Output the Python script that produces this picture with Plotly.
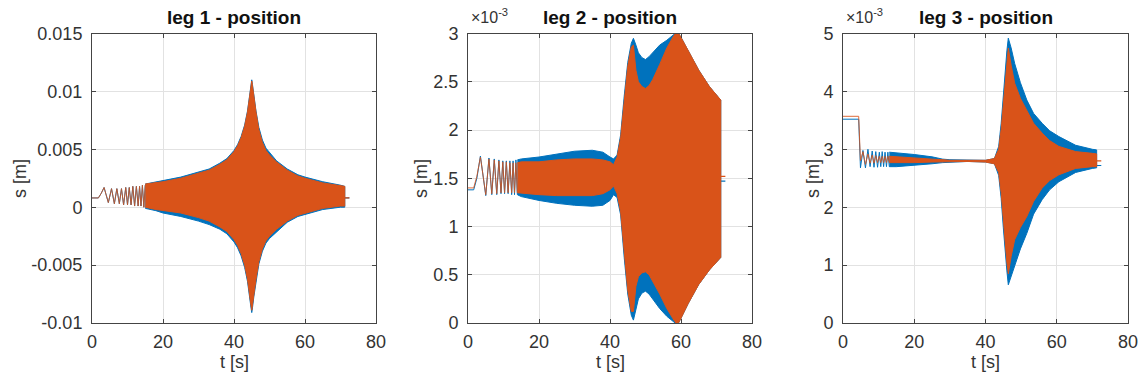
import plotly.graph_objects as go

BLUE = "#0072BD"
ORANGE = "#D95319"
TXT = "#333333"

# ---------------- leg 1 (m) ----------------
leg1_lead_t = [0.0, 1.8, 2.6, 3.4, 4.6, 5.5, 6.3, 7.0, 7.7, 8.3, 8.9, 9.5, 10.0, 10.5, 11.0, 11.5, 12.0, 12.5, 13.0, 13.4, 13.8, 14.2, 14.6, 15.0]
leg1_lead_blue = [0.0008, 0.0008, 0.0012, 0.0017, 0.0004, 0.0016, 0.0003, 0.0016, 0.0003, 0.0016, 0.0002, 0.0017, 0.0002, 0.0017, 0.0002, 0.0018, 0.0001, 0.0018, 0.0001, 0.0018, 0.0001, 0.0019, 0.0000, 0.0019]
leg1_lead_orange = [0.0008, 0.0008, 0.0012, 0.0017, 0.0004, 0.0016, 0.0003, 0.0016, 0.0003, 0.0016, 0.0002, 0.0017, 0.0002, 0.0017, 0.0002, 0.0018, 0.0001, 0.0018, 0.0001, 0.0018, 0.0001, 0.0019, 0.0000, 0.0019]
leg1_env_t = [15, 18, 20, 25, 30, 33, 36, 38, 40, 41, 42, 43, 43.8, 44.4, 44.8, 45.0, 45.2, 45.6, 46.2, 47, 48, 49, 50, 52, 55, 58, 60, 65, 70, 71.2]
leg1_blue_hi = [0.0020, 0.0022, 0.0023, 0.0026, 0.0030, 0.0033, 0.0038, 0.0042, 0.0049, 0.0054, 0.0061, 0.0071, 0.0083, 0.0096, 0.0106, 0.0110, 0.0106, 0.0096, 0.0083, 0.0069, 0.0058, 0.0051, 0.0047, 0.0040, 0.0033, 0.0028, 0.0026, 0.0022, 0.0019, 0.0018]
leg1_blue_lo = [-0.0001, -0.0003, -0.0005, -0.0008, -0.0012, -0.0015, -0.0019, -0.0023, -0.0030, -0.0035, -0.0042, -0.0052, -0.0064, -0.0077, -0.0087, -0.0091, -0.0087, -0.0077, -0.0064, -0.0049, -0.0038, -0.0031, -0.0027, -0.0021, -0.0013, -0.0008, -0.0006, -0.0002, 0.0000, 0.0000]
leg1_orange_hi = [0.0020, 0.0021, 0.0022, 0.0025, 0.0029, 0.0032, 0.0037, 0.0041, 0.0048, 0.0053, 0.0060, 0.0070, 0.0082, 0.0095, 0.0105, 0.0109, 0.0105, 0.0095, 0.0082, 0.0067, 0.0056, 0.0049, 0.0045, 0.0039, 0.0032, 0.0027, 0.0025, 0.0021, 0.0019, 0.0018]
leg1_orange_lo = [0.0000, -0.0002, -0.0003, -0.0005, -0.0009, -0.0012, -0.0017, -0.0021, -0.0028, -0.0033, -0.0040, -0.0050, -0.0062, -0.0075, -0.0085, -0.0089, -0.0085, -0.0075, -0.0062, -0.0047, -0.0036, -0.0029, -0.0025, -0.0019, -0.0012, -0.0007, -0.0005, -0.0001, 0.0001, 0.0001]
leg1_tail_t = [71.2, 72.5]
leg1_tail_blue = [0.0008, 0.0008]
leg1_tail_orange = [0.0008, 0.0008]

# ---------------- leg 2 (x1e-3 m) ----------------
leg2_lead_t = [0, 1.6, 2.5, 3.5, 5.0, 5.9, 6.7, 7.4, 8.1, 8.7, 9.3, 9.8, 10.3, 10.8, 11.3, 11.8, 12.3, 12.7, 13.1, 13.5, 13.9]
leg2_lead_blue = [1.38, 1.38, 1.50, 1.73, 1.32, 1.71, 1.33, 1.70, 1.33, 1.69, 1.34, 1.68, 1.34, 1.68, 1.34, 1.68, 1.33, 1.68, 1.33, 1.69, 1.33]
leg2_lead_orange = [1.40, 1.40, 1.52, 1.72, 1.33, 1.70, 1.34, 1.69, 1.34, 1.68, 1.35, 1.67, 1.35, 1.67, 1.35, 1.66, 1.35, 1.66, 1.35, 1.66, 1.35]
leg2_env_t = [13.9, 15, 20, 25, 30, 35, 38, 40, 41, 42, 43, 44, 45, 46, 46.6, 47.3, 48, 49, 50, 51, 52, 54, 56, 58, 59, 60, 62, 65, 68, 71.2]
leg2_blue_hi = [1.69, 1.70, 1.72, 1.75, 1.78, 1.79, 1.77, 1.72, 1.70, 1.74, 1.95, 2.35, 2.70, 2.90, 2.95, 2.88, 2.80, 2.75, 2.73, 2.76, 2.80, 2.88, 2.93, 2.99, 3.02, 2.96, 2.82, 2.62, 2.45, 2.31]
leg2_blue_lo = [1.33, 1.31, 1.27, 1.24, 1.22, 1.21, 1.22, 1.27, 1.33, 1.30, 1.12, 0.68, 0.30, 0.08, 0.03, 0.12, 0.25, 0.31, 0.33, 0.30, 0.25, 0.15, 0.07, 0.01, -0.02, 0.05, 0.20, 0.40, 0.55, 0.68]
leg2_orange_hi = [1.66, 1.67, 1.67, 1.69, 1.70, 1.70, 1.69, 1.67, 1.64, 1.72, 1.92, 2.32, 2.66, 2.86, 2.88, 2.62, 2.50, 2.45, 2.43, 2.46, 2.52, 2.68, 2.85, 2.98, 3.02, 2.96, 2.82, 2.62, 2.45, 2.31]
leg2_orange_lo = [1.35, 1.34, 1.33, 1.32, 1.32, 1.32, 1.34, 1.38, 1.42, 1.34, 1.15, 0.72, 0.34, 0.12, 0.12, 0.38, 0.48, 0.52, 0.53, 0.50, 0.44, 0.30, 0.15, 0.03, -0.02, 0.05, 0.20, 0.40, 0.55, 0.68]
leg2_tail_t = [71.2, 72.5]
leg2_tail_blue = [1.47, 1.47]
leg2_tail_orange = [1.52, 1.52]

# ---------------- leg 3 (x1e-3 m) ----------------
leg3_lead_t = [0, 4.4, 4.9, 5.6, 6.3, 7.0, 7.6, 8.2, 8.7, 9.2, 9.7, 10.2, 10.6, 11.0, 11.4, 11.8, 12.2, 12.6, 13.0]
leg3_lead_blue = [3.52, 3.52, 2.68, 2.98, 2.68, 3.00, 2.70, 2.97, 2.69, 2.96, 2.69, 2.95, 2.70, 2.96, 2.70, 2.95, 2.70, 2.95, 2.70]
leg3_lead_orange = [3.57, 3.57, 2.80, 2.96, 2.74, 2.92, 2.76, 2.90, 2.76, 2.89, 2.77, 2.88, 2.77, 2.88, 2.77, 2.88, 2.77, 2.88, 2.77]
leg3_env_t = [13, 15, 20, 25, 28, 30, 35, 40, 42.5, 43.7, 44.4, 45, 45.6, 46, 46.4, 47.2, 48.2, 49.8, 51.6, 53.5, 55.9, 58, 60.6, 65.3, 70, 71.2]
leg3_blue_hi = [2.95, 2.94, 2.91, 2.87, 2.83, 2.82, 2.81, 2.81, 2.84, 3.05, 3.45, 3.95, 4.45, 4.70, 4.92, 4.75, 4.48, 4.15, 3.85, 3.62, 3.45, 3.32, 3.22, 3.07, 3.00, 2.99]
leg3_blue_lo = [2.70, 2.70, 2.72, 2.75, 2.77, 2.78, 2.79, 2.78, 2.75, 2.55, 2.15, 1.65, 1.15, 0.90, 0.66, 0.80, 1.00, 1.28, 1.55, 1.88, 2.13, 2.30, 2.44, 2.60, 2.67, 2.68]
leg3_orange_hi = [2.88, 2.87, 2.85, 2.83, 2.82, 2.81, 2.81, 2.81, 2.84, 3.00, 3.35, 3.80, 4.25, 4.50, 4.75, 4.45, 4.14, 3.88, 3.68, 3.45, 3.28, 3.15, 3.05, 2.96, 2.93, 2.92]
leg3_orange_lo = [2.77, 2.77, 2.77, 2.78, 2.79, 2.79, 2.79, 2.78, 2.75, 2.60, 2.25, 1.80, 1.30, 1.05, 0.85, 1.15, 1.44, 1.65, 1.84, 2.10, 2.33, 2.46, 2.56, 2.67, 2.70, 2.70]
leg3_tail_t = [71.2, 72.5]
leg3_tail_blue = [2.72, 2.72]
leg3_tail_orange = [2.80, 2.80]

titles = ["leg 1 - position", "leg 2 - position", "leg 3 - position"]
x_ticks = [0, 20, 40, 60, 80]
y1_ticks = [-0.01, -0.005, 0, 0.005, 0.01, 0.015]
y1_labels = ["-0.01", "-0.005", "0", "0.005", "0.01", "0.015"]
y2_ticks = [0, 0.5, 1, 1.5, 2, 2.5, 3]
y2_labels = ["0", "0.5", "1", "1.5", "2", "2.5", "3"]
y3_ticks = [0, 1, 2, 3, 4, 5]
y3_labels = ["0", "1", "2", "3", "4", "5"]

panels = [
    (leg1_lead_t, leg1_lead_blue, leg1_lead_orange, leg1_env_t, leg1_blue_hi, leg1_blue_lo,
     leg1_orange_hi, leg1_orange_lo, leg1_tail_t, leg1_tail_blue, leg1_tail_orange),
    (leg2_lead_t, leg2_lead_blue, leg2_lead_orange, leg2_env_t, leg2_blue_hi, leg2_blue_lo,
     leg2_orange_hi, leg2_orange_lo, leg2_tail_t, leg2_tail_blue, leg2_tail_orange),
    (leg3_lead_t, leg3_lead_blue, leg3_lead_orange, leg3_env_t, leg3_blue_hi, leg3_blue_lo,
     leg3_orange_hi, leg3_orange_lo, leg3_tail_t, leg3_tail_blue, leg3_tail_orange),
]

W, H = 1142, 383
xdom_px = [(92, 376), (468, 752), (843, 1128)]
ytop_px, ybot_px = 33.5, 323
ydom = [1 - ybot_px / H, 1 - ytop_px / H]

fig = go.Figure()
for i, p in enumerate(panels):
    lt, lb, lo_, et, bh, bl, oh, ol, tt, tb, to = p
    ax = "" if i == 0 else str(i + 1)
    xa, ya = "x" + ax, "y" + ax
    fig.add_trace(go.Scatter(x=lt, y=lb, mode="lines", line=dict(color=BLUE, width=1),
                             xaxis=xa, yaxis=ya, showlegend=False, hoverinfo="skip"))
    fig.add_trace(go.Scatter(x=et + et[::-1], y=bh + bl[::-1], mode="lines", fill="toself",
                             fillcolor=BLUE, line=dict(color=BLUE, width=1),
                             xaxis=xa, yaxis=ya, showlegend=False, hoverinfo="skip"))
    fig.add_trace(go.Scatter(x=tt, y=tb, mode="lines", line=dict(color=BLUE, width=1.2),
                             xaxis=xa, yaxis=ya, showlegend=False, hoverinfo="skip"))
    fig.add_trace(go.Scatter(x=lt, y=lo_, mode="lines", line=dict(color=ORANGE, width=1),
                             xaxis=xa, yaxis=ya, showlegend=False, hoverinfo="skip", opacity=0.85))
    fig.add_trace(go.Scatter(x=et + et[::-1], y=oh + ol[::-1], mode="lines", fill="toself",
                             fillcolor=ORANGE, line=dict(color=ORANGE, width=1),
                             xaxis=xa, yaxis=ya, showlegend=False, hoverinfo="skip"))
    fig.add_trace(go.Scatter(x=tt, y=to, mode="lines", line=dict(color=ORANGE, width=1.2),
                             xaxis=xa, yaxis=ya, showlegend=False, hoverinfo="skip"))

yt = [(y1_ticks, y1_labels, [-0.01, 0.015]), (y2_ticks, y2_labels, [0, 3]), (y3_ticks, y3_labels, [0, 5])]
FAM = "Liberation Sans, Arial, sans-serif"
font = dict(family=FAM, size=18, color=TXT)
axis_common = dict(showline=True, linecolor="#444444", linewidth=1, mirror="ticks", ticks="inside",
                   ticklen=4, tickcolor="#444444", showgrid=True, gridcolor="#e2e2e2", gridwidth=1,
                   zeroline=False, tickfont=font, automargin=False)
layout = dict(width=W, height=H, margin=dict(l=0, r=0, t=0, b=0, autoexpand=False),
              paper_bgcolor="white", plot_bgcolor="white", font=font)
annotations = []
for i in range(3):
    ax = "" if i == 0 else str(i + 1)
    x0, x1 = xdom_px[i]
    layout["xaxis" + ax] = dict(domain=[x0 / W, x1 / W], range=[0, 80], tickvals=x_ticks,
                                anchor="y" + ax, ticklabelstandoff=2, **axis_common)
    layout["yaxis" + ax] = dict(domain=ydom, range=yt[i][2], tickvals=yt[i][0], ticktext=yt[i][1],
                                anchor="x" + ax, ticklabelstandoff=5, **axis_common)
    xc = (x0 + x1) / 2 / W
    annotations.append(dict(text="<b>" + titles[i] + "</b>", x=xc, y=1 - 17 / H, xref="paper", yref="paper",
                            showarrow=False, font=dict(family=FAM, size=19, color="#111111"),
                            xanchor="center", yanchor="middle"))
    annotations.append(dict(text="t [s]", x=xc, y=1 - 362 / H, xref="paper", yref="paper",
                            showarrow=False, font=font, xanchor="center", yanchor="middle"))
ylab_x = [20, 421, 813]
for i in range(3):
    annotations.append(dict(text="s [m]", x=ylab_x[i] / W, y=1 - 179 / H, xref="paper", yref="paper",
                            showarrow=False, textangle=-90, font=font, xanchor="center", yanchor="middle"))
for i in (1, 2):
    annotations.append(dict(text="×10<sup>-3</sup>", x=(xdom_px[i][0] + 1) / W, y=1 - 16 / H,
                            xref="paper", yref="paper", showarrow=False, font=dict(family=FAM, size=16, color=TXT),
                            xanchor="left", yanchor="middle"))
layout["annotations"] = annotations
fig.update_layout(**layout)
fig.write_html("out.html", config={"displayModeBar": False},
               post_script="document.body.style.margin='0';document.body.style.overflow='hidden';")
